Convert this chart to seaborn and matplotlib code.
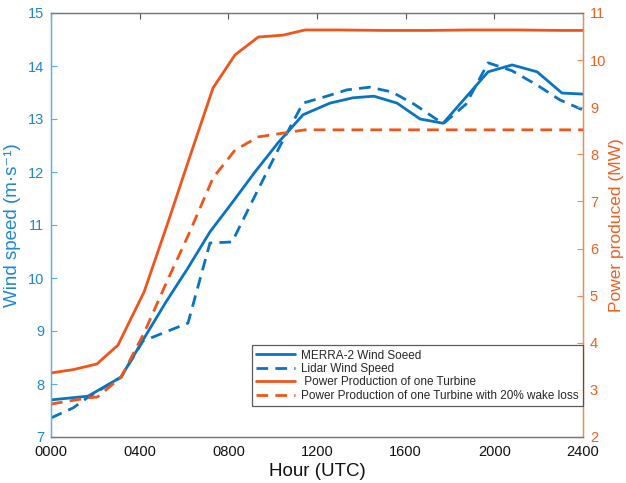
import matplotlib
matplotlib.use("Agg")
import matplotlib.pyplot as plt
import seaborn as sns
import pandas as pd
from matplotlib.lines import Line2D

sns.set_theme(style="white")
plt.rcParams['font.family'] = ['Liberation Sans', 'DejaVu Sans']

# ---- data ----
merra_hours = [0, 1.67, 3.16, 4.15, 5.19, 6.18, 7.17, 8.17, 9.20, 10.24, 11.37, 12.59,
               13.62, 14.57, 15.61, 16.65, 17.69, 19.72, 20.80, 21.93, 23.05, 24.0]
merra_speed = [7.70, 7.77, 8.13, 8.83, 9.55, 10.19, 10.87, 11.42, 12.00, 12.55, 13.08, 13.30,
               13.40, 13.43, 13.30, 13.00, 12.92, 13.89, 14.02, 13.89, 13.49, 13.47]

lidar_hours = [0, 1.0, 1.67, 3.16, 4.15, 6.18, 7.17, 8.17, 9.20, 10.33, 11.37, 12.36,
               13.35, 14.39, 15.38, 16.38, 17.69, 18.72, 19.72, 20.80, 21.93, 22.96, 24.0]
lidar_speed = [7.36, 7.55, 7.75, 8.13, 8.81, 9.15, 10.66, 10.68, 11.55, 12.49, 13.30, 13.42,
               13.55, 13.60, 13.51, 13.28, 12.91, 13.28, 14.06, 13.91, 13.64, 13.36, 13.17]

power_hours = [0, 1.0, 2.07, 3.02, 4.2, 5.28, 6.27, 7.31, 8.3, 9.35, 10.47, 11.46,
               13.0, 15.0, 17.0, 19.0, 21.0, 23.0, 24.0]
power_mw = [3.36, 3.43, 3.55, 3.95, 5.08, 6.56, 7.96, 9.41, 10.11, 10.49, 10.53, 10.64,
            10.64, 10.63, 10.63, 10.64, 10.64, 10.63, 10.63]

wake_hours = [0, 1.67, 2.1, 3.16, 4.2, 5.2, 6.2, 7.31, 8.3, 9.35, 10.47, 11.46,
              14.0, 17.0, 20.0, 24.0]
wake_mw = [2.70, 2.83, 2.85, 3.27, 4.21, 5.27, 6.29, 7.50, 8.09, 8.37, 8.45, 8.52,
           8.52, 8.52, 8.52, 8.52]

xtick_vals = [0, 4, 8, 12, 16, 20, 24]
xtick_labels = ["0000", "0400", "0800", "1200", "1600", "2000", "2400"]
legend_labels = ["MERRA-2 Wind Soeed", "Lidar Wind Speed",
                 " Power Production of one Turbine",
                 "Power Production of one Turbine with 20% wake loss"]

BLUE = "#0a73c2"
ORANGE = "#f0551c"
BLUE_TXT = "#1f86d0"
ORANGE_TXT = "#f2601f"
BLUE_AX = "#5aaee6"
ORANGE_AX = "#f5894f"

fig = plt.figure(figsize=(6.26, 4.83), dpi=100)
ax = fig.add_axes([51/626, 1-437/483, (583-51)/626, (437-13)/483])
ax2 = ax.twinx()

dash = (0, (4.2, 2.6))
lw = 2.0
sns.lineplot(x=merra_hours, y=merra_speed, ax=ax, color=BLUE, lw=lw)
sns.lineplot(x=lidar_hours, y=lidar_speed, ax=ax, color=BLUE, lw=lw, linestyle=dash)
sns.lineplot(x=power_hours, y=power_mw, ax=ax2, color=ORANGE, lw=lw)
sns.lineplot(x=wake_hours, y=wake_mw, ax=ax2, color=ORANGE, lw=lw, linestyle=dash)

ax.set_xlim(0, 24)
ax.set_ylim(7, 15)
ax2.set_ylim(2, 11)
ax.set_xticks(xtick_vals)
ax.set_xticklabels(xtick_labels)
ax.set_yticks(range(7, 16))
ax2.set_yticks(range(2, 12))

ax.tick_params(axis='x', direction='in', length=4, width=0.8, color='#555555',
               labelsize=10.5, labelcolor='#111111', top=True, pad=6)
ax.tick_params(axis='y', direction='in', length=4, width=0.8, color=BLUE_AX,
               labelsize=10.5, labelcolor=BLUE_TXT, left=True, pad=5)
ax2.tick_params(axis='y', direction='in', length=4, width=0.8, color=ORANGE_AX,
                labelsize=10.5, labelcolor=ORANGE_TXT, right=True, pad=5)

for a in (ax, ax2):
    a.spines['top'].set_color('#777777')
    a.spines['bottom'].set_color('#777777')
    a.spines['left'].set_color(BLUE_AX)
    a.spines['right'].set_color(ORANGE_AX)
    for s in a.spines.values():
        s.set_linewidth(0.9)

ax.set_xlabel("Hour (UTC)", fontsize=13.5, color='#111111', labelpad=3)
ax.set_ylabel("Wind speed (m·s⁻¹)", fontsize=13.5, color=BLUE_TXT, labelpad=5)
ax2.set_ylabel("Power produced (MW)", fontsize=12.5, color=ORANGE_TXT, labelpad=2)

handles = [Line2D([], [], color=BLUE, lw=lw),
           Line2D([], [], color=BLUE, lw=lw, linestyle=dash),
           Line2D([], [], color=ORANGE, lw=lw),
           Line2D([], [], color=ORANGE, lw=lw, linestyle=dash)]
leg = ax2.legend(handles, legend_labels, loc='lower right',
                 bbox_to_anchor=(1.0, (437-406)/424),
                 fontsize=8.5, frameon=True, fancybox=False, handlelength=3.3,
                 handletextpad=0.5, borderpad=0.35, labelspacing=0.12,
                 borderaxespad=0.0)
leg.get_frame().set_edgecolor('#333333')
leg.get_frame().set_linewidth(0.9)

fig.savefig("out.png", dpi=100)
